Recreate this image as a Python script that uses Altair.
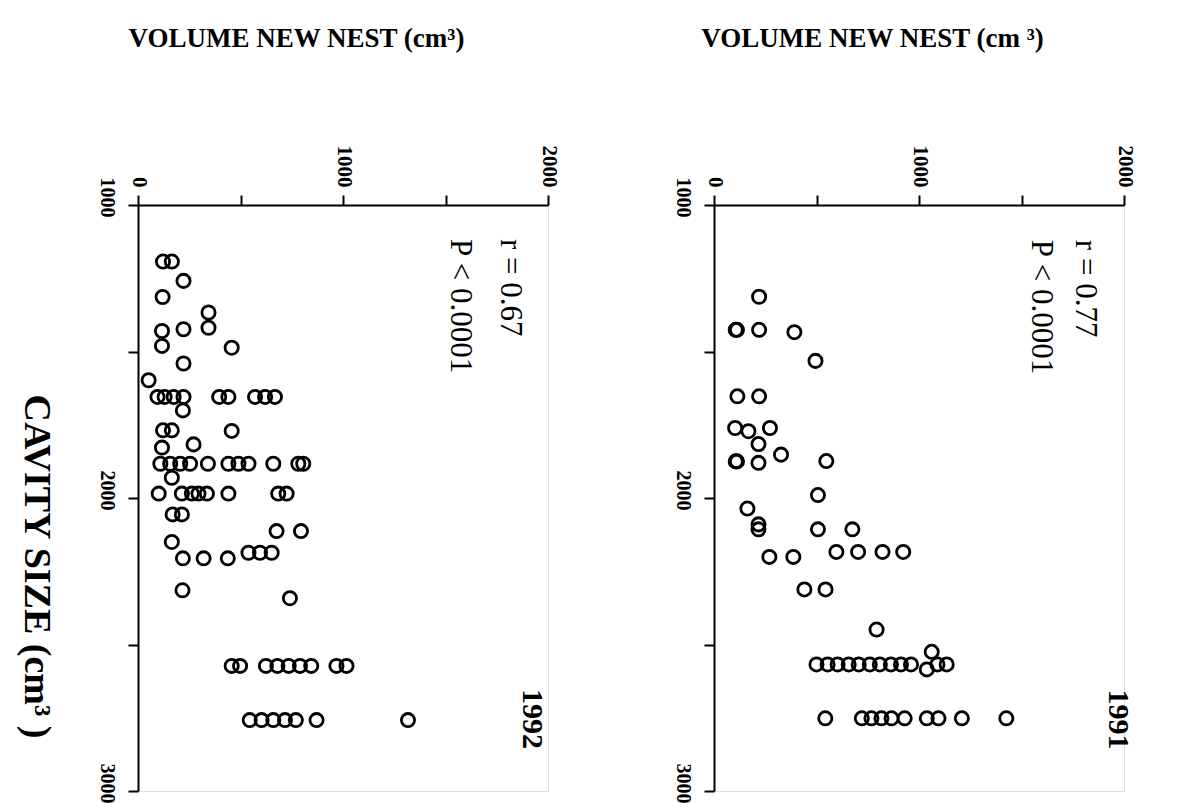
import altair as alt
import pandas as pd

# ---- 1992 panel (left) ----
vol_1992 = [122, 165, 222, 120, 344, 344, 117, 222, 117, 457, 222, 52,
            95, 130, 174, 222, 396, 441, 571, 620, 668,
            219, 122, 165, 457, 271, 117,
            109, 157, 206, 254, 341, 441, 490, 539, 660, 782, 806,
            165,
            101, 214, 263, 295, 336, 441, 684, 725,
            169, 214, 676, 795, 165,
            219, 320, 438, 539, 595, 652,
            217, 741,
            457, 498, 624, 680, 735, 790, 845, 968, 1017,
            545, 603, 660, 717, 770, 871, 1317]
cav_1992 = [1193, 1193, 1259, 1314, 1367, 1419, 1430, 1424, 1481, 1487, 1541, 1598,
            1655, 1655, 1655, 1655, 1655, 1655, 1655, 1655, 1655,
            1701, 1769, 1769, 1771, 1817, 1828,
            1883, 1883, 1883, 1883, 1883, 1883, 1883, 1883, 1883, 1883, 1883,
            1931,
            1985, 1985, 1985, 1985, 1985, 1985, 1985, 1985,
            2056, 2056, 2113, 2113, 2150,
            2206, 2206, 2206, 2187, 2187, 2187,
            2315, 2342,
            2573, 2573, 2573, 2573, 2573, 2573, 2573, 2573, 2573,
            2758, 2758, 2758, 2758, 2758, 2758, 2758]

# ---- 1991 panel (right) ----
vol_1991 = [220, 106, 112, 220, 392, 495, 114, 220, 103, 168, 273, 217, 327,
            106, 112, 217, 548, 507, 163, 217, 217, 507, 675,
            270, 387, 597, 703, 822, 923, 441, 544, 793,
            500, 554, 603, 657, 706, 760, 809, 863, 912, 961,
            1062, 1038, 1090, 1135,
            543, 721, 768, 817, 866, 930, 1038, 1095, 1209, 1426]
cav_1991 = [1313, 1426, 1426, 1426, 1434, 1532, 1653, 1653, 1761, 1772, 1761, 1816, 1852,
            1875, 1875, 1880, 1874, 1990, 2036, 2090, 2107, 2107, 2107,
            2201, 2201, 2184, 2184, 2184, 2184, 2312, 2312, 2449,
            2568, 2568, 2568, 2568, 2568, 2568, 2568, 2568, 2568, 2568,
            2525, 2585, 2568, 2568,
            2752, 2752, 2752, 2752, 2752, 2752, 2752, 2752, 2752, 2752]

# annotation texts (data coordinates: volume, cavity)
r_texts = ["r = 0.67", "r = 0.77"]
p_texts = ["P < 0.0001", "P < 0.0001"]
years = ["1992", "1991"]
r_pos = [(1771, 1116), (1765, 1119)]
p_pos = [(1528, 1116), (1553, 1119)]
year_pos = [(1877, 2652), (1928, 2654)]

x_titles = ["VOLUME NEW NEST (cm³)", "VOLUME NEW NEST (cm ³)"]
y_title = "CAVITY SIZE (cm³ )"

FONT = "Liberation Serif"
X_TICKS = [0, 500, 1000, 1500, 2000]
Y_TICKS = [1000, 1500, 2000, 2500, 3000]
LABEL_EXPR = "datum.value % 1000 == 0 ? format(datum.value, 'd') : ''"


def panel(i, vols, cavs, show_y_title):
    df = pd.DataFrame({"vol": vols, "cav": cavs})
    xscale = alt.Scale(domain=[0, 2000], nice=False, zero=False)
    yscale = alt.Scale(domain=[1000, 3000], nice=False, zero=False, reverse=True)

    xaxis = alt.Axis(orient="top", values=X_TICKS, labelExpr=LABEL_EXPR,
                     labelAngle=90, labelAlign="right", labelBaseline="middle",
                     labelFont=FONT, labelFontWeight="bold", labelFontSize=21,
                     labelColor="black", labelPadding=8,
                     tickSize=10, tickWidth=2, tickColor="black",
                     domainWidth=2, domainColor="black", grid=False,
                     title=x_titles[i], titleFont=FONT, titleFontWeight="bold",
                     titleFontSize=27, titleColor="black", titleAngle=0,
                     titleAlign="center", titleBaseline="alphabetic",
                     titleX=158, titleY=-159)
    yargs = dict(orient="left", values=Y_TICKS, labelExpr=LABEL_EXPR,
                 labelAngle=90, labelAlign="center", labelBaseline="top",
                 labelFont=FONT, labelFontWeight="bold", labelFontSize=20,
                 labelColor="black", labelPadding=12, labelOffset=-8,
                 tickSize=10, tickWidth=2, tickColor="black",
                 domainWidth=2, domainColor="black", grid=False)
    if show_y_title:
        yaxis = alt.Axis(title=y_title, titleFont=FONT, titleFontWeight="bold",
                         titleFontSize=38, titleColor="black", titleAngle=90,
                         titleAlign="center", titleBaseline="alphabetic",
                         titleX=-114, titleY=361, **yargs)
    else:
        yaxis = alt.Axis(title="", **yargs)

    pts = alt.Chart(df).mark_point(
        shape="circle", filled=False, size=175, strokeWidth=2.8,
        color="black", opacity=1
    ).encode(
        x=alt.X("vol:Q", scale=xscale, axis=xaxis),
        y=alt.Y("cav:Q", scale=yscale, axis=yaxis),
    )

    ann = pd.DataFrame({
        "vol": [r_pos[i][0], p_pos[i][0]],
        "cav": [r_pos[i][1], p_pos[i][1]],
        "txt": [r_texts[i], p_texts[i]],
    })
    txt = alt.Chart(ann).mark_text(
        angle=90, align="left", baseline="alphabetic", font=FONT,
        fontSize=31, color="black"
    ).encode(x=alt.X("vol:Q", scale=xscale), y=alt.Y("cav:Q", scale=yscale),
             text="txt:N")

    yr = pd.DataFrame({"vol": [year_pos[i][0]], "cav": [year_pos[i][1]],
                       "txt": [years[i]]})
    ytxt = alt.Chart(yr).mark_text(
        angle=90, align="left", baseline="alphabetic", font=FONT,
        fontSize=30, fontWeight="bold", color="black"
    ).encode(x=alt.X("vol:Q", scale=xscale), y=alt.Y("cav:Q", scale=yscale),
             text="txt:N")

    return alt.layer(pts, txt, ytxt).properties(width=410, height=586)


chart = alt.hconcat(
    panel(0, vol_1992, cav_1992, True),
    panel(1, vol_1991, cav_1991, False),
    spacing=111,
).properties(
    padding={"left": 15, "top": 23, "right": 5, "bottom": 5},
).configure_view(stroke=None).configure(background="white")

chart.save("out.html", embed_options={"renderer": "svg", "actions": False})
